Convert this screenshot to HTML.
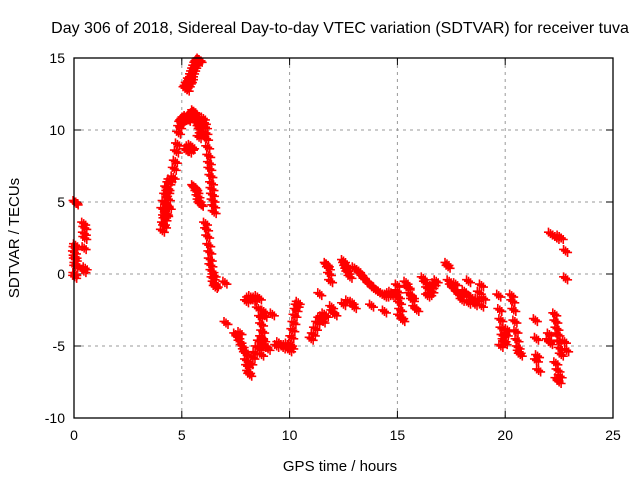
<!DOCTYPE html>
<html><head><meta charset="utf-8"><style>
body{margin:0;background:#fff}
svg{display:block;font-family:"Liberation Sans",sans-serif}
</style></head><body>
<svg id="chart" width="640" height="480">
<rect width="640" height="480" fill="#fff"/>
<text x="340" y="33" font-size="16" text-anchor="middle">Day 306 of 2018, Sidereal Day-to-day VTEC variation (SDTVAR) for receiver tuva</text>
<text x="340" y="471" font-size="15" text-anchor="middle">GPS time / hours</text>
<text x="19" y="238" font-size="15" text-anchor="middle" transform="rotate(-90 19 238)">SDTVAR / TECUs</text>
<g id="grid"></g>
<g id="ticks"></g>
<g id="points"></g>
<rect x="74" y="58" width="539" height="360" fill="none" stroke="#000" stroke-width="1.3"/>
</svg>
<script>
const xTicks=[0,5,10,15,20,25];
const yTicks=[-10,-5,0,5,10,15];
const hours=[
0.05,0.08,0.1,0.05,0.02,0.06,0.08,0.04,0.03,0.07,0.05,0.09,
0.45,0.5,0.48,0.5,0.47,0.52,0.46,
4.1,4.15,4.2,4.12,4.18,4.25,4.3,4.22,4.28,4.35,4.4,4.32,4.38,4.45,4.3,4.2,4.36,4.42,
4.6,4.65,4.7,4.75,4.8,4.85,4.9,4.95,5.0,5.05,5.1,5.15,5.2,5.25,5.3,5.35,5.4,
5.15,5.2,5.25,5.3,5.35,5.4,5.45,5.5,5.55,5.6,5.65,5.7,5.75,5.8,5.85,5.25,5.35,5.45,
5.2,5.3,5.4,5.5,5.35,5.45,
5.5,5.55,5.6,5.65,5.7,5.75,5.8,5.85,5.9,5.7,5.8,
5.55,5.6,5.65,5.7,5.75,5.8,5.85,5.9,
6.0,6.05,6.1,6.12,6.15,6.2,6.25,6.28,6.3,6.35,6.38,6.4,6.42,6.45,6.48,6.5,
6.1,6.15,6.2,6.25,6.3,6.32,6.35,6.4,6.45,6.5,6.55,6.6,6.5,
7.0,7.05,
7.5,7.6,7.7,7.8,7.9,7.7,7.95,8.0,8.05,8.1,8.15,
8.0,8.1,8.2,8.3,8.4,8.5,8.6,8.55,8.65,8.7,8.75,8.8,8.6,8.7,8.8,8.85,
8.2,8.3,8.4,8.5,8.6,8.7,8.8,8.9,9.0,
9.2,9.4,9.5,9.6,9.7,9.8,9.9,
10.0,10.05,10.1,10.15,10.2,10.25,10.3,10.35,10.4,10.1,
11.0,11.1,11.2,11.3,11.4,11.5,11.6,11.7,11.55,
11.4,11.7,11.75,11.8,11.85,11.9,11.95,12.0,12.1,
12.5,12.55,12.6,12.65,12.7,12.8,12.9,13.0,12.5,12.7,
13.0,13.1,13.2,13.3,13.4,13.5,13.6,13.7,13.8,13.9,14.0,14.1,14.2,14.3,14.4,14.5,14.6,14.7,14.8,13.8,14.4,
15.0,15.05,15.1,15.15,15.2,15.25,15.0,15.1,
15.4,15.5,15.6,15.7,15.8,15.9,15.5,15.7,
16.2,16.3,16.4,16.5,16.6,16.7,16.8,16.4,16.6,
17.3,17.35,17.4,17.5,17.6,17.7,17.8,17.9,18.0,18.1,18.2,18.3,18.4,18.5,18.6,18.7,18.8,18.9,19.0,18.3,18.9,
19.7,19.75,19.8,19.85,19.9,19.95,20.0,20.05,20.1,19.8,
20.3,20.35,20.4,20.45,20.5,20.55,20.6,20.65,20.7,
21.4,21.45,21.5,21.55,21.45,
22.0,22.05,22.1,22.3,22.35,22.4,22.45,22.5,22.55,22.6,22.35,22.45,22.55,22.5,22.4,
22.1,22.3,22.4,22.5,22.6,
22.8,22.8,22.75,22.85
];
const sdtvar=[
5.0,5.0,4.9,1.8,1.5,1.0,0.5,0.0,-0.2,2.0,1.2,0.7,
3.5,3.2,2.8,2.5,1.8,0.4,0.2,
3.0,3.5,4.0,4.5,5.0,5.5,6.0,3.8,4.2,5.7,6.3,4.8,5.2,6.5,4.1,3.3,5.9,4.6,
6.7,7.3,7.8,8.5,9.0,9.8,10.2,10.5,10.6,10.7,10.8,10.8,10.9,10.8,10.7,10.9,11.0,
12.9,13.0,13.2,13.1,13.3,13.4,13.8,14.0,14.2,14.4,14.6,14.7,14.8,14.9,14.8,12.8,13.5,13.6,
8.6,8.8,8.9,8.8,8.5,8.7,
11.1,11.3,11.2,11.0,10.7,10.4,10.2,10.0,9.7,10.8,9.5,
6.1,6.0,5.9,5.7,5.4,5.1,4.9,4.8,
10.8,10.5,10.2,9.8,9.4,8.8,8.2,7.7,7.3,6.8,6.3,5.9,5.5,5.1,4.7,4.3,
3.5,3.1,2.6,2.0,1.5,1.0,0.6,0.2,-0.3,-0.6,-0.9,-0.8,-0.1,
-0.6,-3.4,
-4.2,-4.4,-4.7,-5.0,-5.3,-4.1,-5.5,-6.0,-6.4,-6.8,-7.0,
-1.9,-1.7,-1.6,-1.8,-1.7,-1.6,-1.7,-2.4,-3.0,-3.5,-4.0,-2.6,-5.2,-5.6,-5.0,-2.9,
-6.2,-5.8,-5.5,-5.1,-4.7,-4.4,-4.6,-5.0,-5.2,
-2.8,-5.0,-4.8,-4.9,-5.1,-5.0,-4.9,
-5.3,-4.9,-4.4,-3.9,-3.4,-2.9,-2.5,-2.2,-2.0,-5.1,
-4.5,-4.2,-3.8,-3.4,-3.1,-3.0,-2.8,-2.9,-3.3,
-1.4,0.7,0.6,0.4,0.0,-0.5,-2.3,-2.6,-2.8,
0.9,0.7,0.5,0.3,0.1,-0.2,-2.0,-2.3,-2.1,-1.9,
0.4,0.3,0.2,0.0,-0.2,-0.4,-0.5,-0.7,-0.8,-1.0,-1.1,-1.2,-1.3,-1.4,-1.5,-1.5,-1.4,-1.3,-1.5,-2.2,-2.6,
-1.2,-1.6,-2.0,-2.5,-3.0,-3.2,-0.8,-2.9,
-0.6,-1.0,-1.4,-1.8,-2.3,-2.5,-0.9,-1.6,
-0.3,-0.6,-1.0,-1.4,-1.2,-0.7,-0.5,-1.5,-0.9,
0.7,0.5,-0.5,-0.8,-1.0,-0.7,-1.3,-1.5,-1.8,-1.2,-1.4,-2.0,-1.6,-1.9,-2.1,-1.8,-1.3,-2.2,-1.7,-0.5,-0.8,
-1.5,-2.5,-3.2,-3.8,-4.3,-4.6,-4.8,-4.2,-3.9,-5.0,
-1.5,-1.9,-2.5,-3.3,-4.0,-4.6,-5.1,-5.4,-5.6,
-3.2,-4.5,-5.7,-6.7,-6.0,
-4.6,-4.2,-4.8,-2.8,-3.3,-3.8,-4.2,-4.7,-5.2,-5.6,-6.2,-6.7,-7.1,-7.5,-7.3,
2.8,2.6,2.5,2.6,2.5,
1.6,-0.3,-4.7,-5.3
];
const X0=74,X1=613,Y0=418,Y1=58;
function xs(v){return X0+(v-0)/(25-0)*(X1-X0);}
function ys(v){return Y0-(v-(-10))/(15-(-10))*(Y0-Y1);}
const NS="http://www.w3.org/2000/svg";
const grid=document.getElementById('grid'),ticks=document.getElementById('ticks'),pts=document.getElementById('points');
function mk(tag,attrs,parent){const e=document.createElementNS(NS,tag);for(const k in attrs)e.setAttribute(k,attrs[k]);parent.appendChild(e);return e;}
xTicks.forEach(t=>{
  const x=xs(t);
  if(t>0&&t<25){const g=mk('line',{x1:x,x2:x,y1:Y1,y2:Y0,stroke:'#999','stroke-dasharray':'3,4'},grid);
  
  }
  mk('line',{x1:x,x2:x,y1:Y0,y2:Y0-7,stroke:'#000'},ticks);
  mk('line',{x1:x,x2:x,y1:Y1,y2:Y1+7,stroke:'#000'},ticks);
  const l=mk('text',{x:x,y:Y0+22,'font-size':14,'text-anchor':'middle'},ticks);
  l.textContent=t;
  
  
});
yTicks.forEach(t=>{
  const y=ys(t);
  if(t>-10&&t<15){const g=mk('line',{x1:X0,x2:X1,y1:y,y2:y,stroke:'#999','stroke-dasharray':'3,4'},grid);
  
  }
  mk('line',{x1:X0,x2:X0+7,y1:y,y2:y,stroke:'#000'},ticks);
  mk('line',{x1:X1,x2:X1-7,y1:y,y2:y,stroke:'#000'},ticks);
  const l=mk('text',{x:X0-9,y:y+5,'font-size':14,'text-anchor':'end'},ticks);
  l.textContent=t;
  
  
});
for(let i=0;i<hours.length;i++){
  const cx=xs(hours[i]),cy=ys(sdtvar[i]);
  let d='';
  [[0,0],[2,1.5],[-2,-1.5]].forEach(o=>{const a=cx+o[0],b=cy+o[1];d+=`M${a-4.5},${b}h9M${a},${b-4.5}v9`;});
  const p=mk('path',{d:d,stroke:'#f00','stroke-width':1.6,fill:'none'},pts);
  
  
}
</script>
</body></html>
